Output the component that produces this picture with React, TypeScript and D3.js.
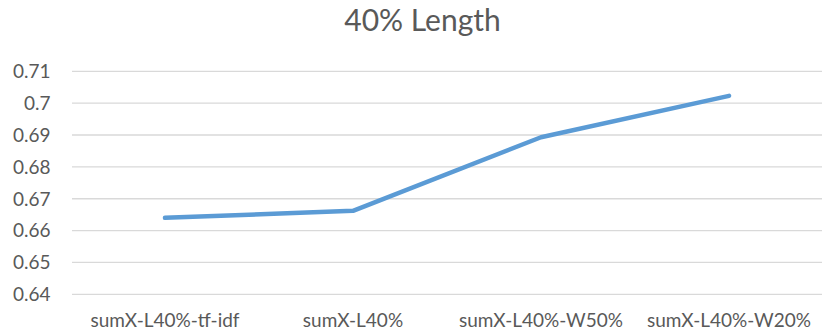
import React from "react";
import * as d3 from "d3";

const categories: string[] = [
  "sumX-L40%-tf-idf",
  "sumX-L40%",
  "sumX-L40%-W50%",
  "sumX-L40%-W20%",
];
const values: number[] = [0.664, 0.6662, 0.6893, 0.7023];
const yTicks: number[] = [0.64, 0.65, 0.66, 0.67, 0.68, 0.69, 0.7, 0.71];
const title = "40% Length";

const W = 822;
const H = 335;
const FONT = "Lato, 'Open Sans', sans-serif";
const TEXT = "#595959";

export default function App() {
  const x = d3.scaleBand<string>().domain(categories).range([71, 823]);
  const y = d3.scaleLinear().domain([0.64, 0.71]).range([294.3, 71.3]);
  const line = d3
    .line<number>()
    .x((_, i) => (x(categories[i]) as number) + x.bandwidth() / 2)
    .y((d) => y(d));

  return (
    <svg
      width={W}
      height={H}
      style={{ position: "absolute", left: 0, top: 0, background: "#fff" }}
      fontFamily={FONT}
    >
      <rect width={W} height={H} fill="#fff" />
      <text x={422.5} y={31} textAnchor="middle" fontSize={30} fill={TEXT}>
        {title}
      </text>
      {yTicks.map((t) => (
        <g key={t}>
          <line x1={72} x2={W} y1={y(t)} y2={y(t)} stroke="#d9d9d9" strokeWidth={1.3} />
          <text
            x={50.5}
            y={y(t)}
            dy="0.36em"
            textAnchor="end"
            fontSize={19}
            fill={TEXT}
          >
            {d3.format("~g")(t)}
          </text>
        </g>
      ))}
      {categories.map((c) => (
        <text
          key={c}
          x={(x(c) as number) + x.bandwidth() / 2}
          y={327}
          textAnchor="middle"
          fontSize={19}
          fill={TEXT}
        >
          {c}
        </text>
      ))}
      <path
        d={line(values) ?? ""}
        fill="none"
        stroke="#5b9bd5"
        strokeWidth={4.5}
        strokeLinecap="round"
        strokeLinejoin="round"
      />
    </svg>
  );
}
